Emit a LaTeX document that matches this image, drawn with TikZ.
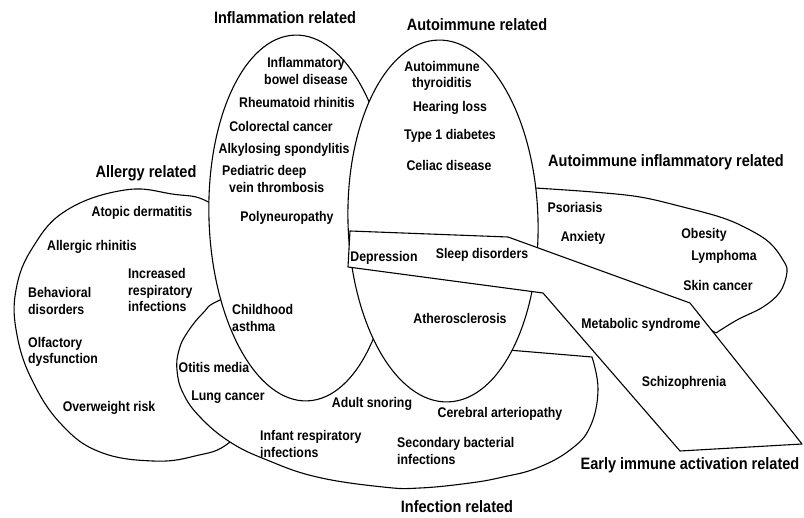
\documentclass[tikz,border=0pt]{standalone}
\usepackage{fontspec}
\setmainfont{Liberation Sans}[FakeStretch=0.88]
\usepackage{tikz}

\tikzset{
  region/.style={draw=black, fill=white, line width=1.1pt, line join=round},
  grouptitle/.style={font=\fontsize{16.5}{19}\selectfont\bfseries, inner sep=0pt},
  disease/.style={font=\fontsize{14}{16.5}\selectfont\bfseries, inner sep=0pt, align=center},
  diseaseleft/.style={disease, align=left, anchor=west},
}

\begin{document}
\begin{tikzpicture}[x=1pt, y=-1pt]
\useasboundingbox (0,0) rectangle (804,518);

% allergy
\draw[region] plot[smooth cycle, tension=0.7] coordinates {(125,190) (172,194) (210,203) (250,240) (275,320) (265,400) (230,442) (195,456) (153,461) (100,452) (62,425) (33,382) (17,335) (16,290) (33,247) (67,210)};

% infection
\draw[region] (508,350) -- (592,357) -- plot[smooth, tension=0.7] coordinates {(592,357) (598,390) (590,427) (570,450) (537,468) (503,477) (470,483) (420,488) (383,487) (317,477) (267,460) (230,442) (200,417) (183,393) (177,370) (179,350) (187,333) (203,313) (220,300) (280,277) (345,268) (430,290) (490,318) (508,350)} -- cycle;

% autoimmune inflammatory
\draw[region] (515,188) -- (535,188) -- plot[smooth, tension=0.6] coordinates {(535,188) (593,192) (640,197) (683,207) (723,218) (750,230) (770,243) (783,260) (787,272) (780,292) (763,307) (737,320) (716,333)} -- (660,300) -- (560,262) -- (520,250) -- cycle;

% inflammation, autoimmune
\draw[region, rotate around={2:(301,218)}] (301,218) ellipse [x radius=92, y radius=183];
\draw[region, rotate around={1.6:(443,221)}] (443,221) ellipse [x radius=95, y radius=181];

% early immune activation
\draw[region] (350,231) -- (508,237) -- (690,303) -- (802,444) -- (680,451) -- (543,293) -- (348,267) -- cycle;

% group titles
\node[grouptitle] (tInflam) at (285,18) {Inflammation related};
\node[grouptitle] (tAutoimm) at (477,25) {Autoimmune related};
\node[grouptitle] (tAllergy) at (146,173) {Allergy related};
\node[grouptitle] (tAutoInflam) at (666,162) {Autoimmune inflammatory related};
\node[grouptitle] (tInfect) at (457,507) {Infection related};
\node[grouptitle] (tEarly) at (690,465) {Early immune activation related};

% inflammation related
\node[disease] (ibd) at (306,71) {Inflammatory\\bowel disease};
\node[disease] (rheum) at (297,103) {Rheumatoid rhinitis};
\node[disease] (colo) at (281,127) {Colorectal cancer};
\node[disease] (alky) at (284,150) {Alkylosing spondylitis};
\node[diseaseleft] (pdvt) at (222,179) {Pediatric deep\\\hspace*{7pt}vein thrombosis};
\node[disease] (polyn) at (287,218) {Polyneuropathy};

% autoimmune related
\node[disease] (thyr) at (442,76) {Autoimmune\\thyroiditis};
\node[disease] (hear) at (450,108) {Hearing loss};
\node[disease] (tdiab) at (450,136) {Type 1 diabetes};
\node[disease] (celiac) at (449,165) {Celiac disease};
\node[disease] (athero) at (460,318) {Atherosclerosis};

% early immune activation related
\node[disease] (depr) at (384,258) {Depression};
\node[disease] (sleep) at (482,255) {Sleep disorders};
\node[disease] (metab) at (641,325) {Metabolic syndrome};
\node[disease] (schizo) at (684,383) {Schizophrenia};

% autoimmune inflammatory related
\node[disease] (psor) at (575,207) {Psoriasis};
\node[disease] (anx) at (583,238) {Anxiety};
\node[disease] (obes) at (704,235) {Obesity};
\node[disease] (lymph) at (724,257) {Lymphoma};
\node[disease] (skin) at (718,285) {Skin cancer};

% allergy related
\node[disease] (atopic) at (142,213) {Atopic dermatitis};
\node[disease] (rhin) at (92,247) {Allergic rhinitis};
\node[diseaseleft] (resp) at (128,290) {Increased\\respiratory\\infections};
\node[diseaseleft] (behav) at (28,301) {Behavioral\\disorders};
\node[diseaseleft] (olf) at (28,352) {Olfactory\\dysfunction};
\node[disease] (overw) at (109,408) {Overweight risk};

% infection related
\node[diseaseleft] (asthma) at (232,318) {Childhood\\asthma};
\node[disease] (otitis) at (214,367) {Otitis media};
\node[disease] (lung) at (228,397) {Lung cancer};
\node[disease] (snore) at (372,404) {Adult snoring};
\node[disease] (cereb) at (500,414) {Cerebral arteriopathy};
\node[diseaseleft] (infant) at (260,444) {Infant respiratory\\infections};
\node[diseaseleft] (bact) at (397,451) {Secondary bacterial\\infections};
\end{tikzpicture}
\end{document}
